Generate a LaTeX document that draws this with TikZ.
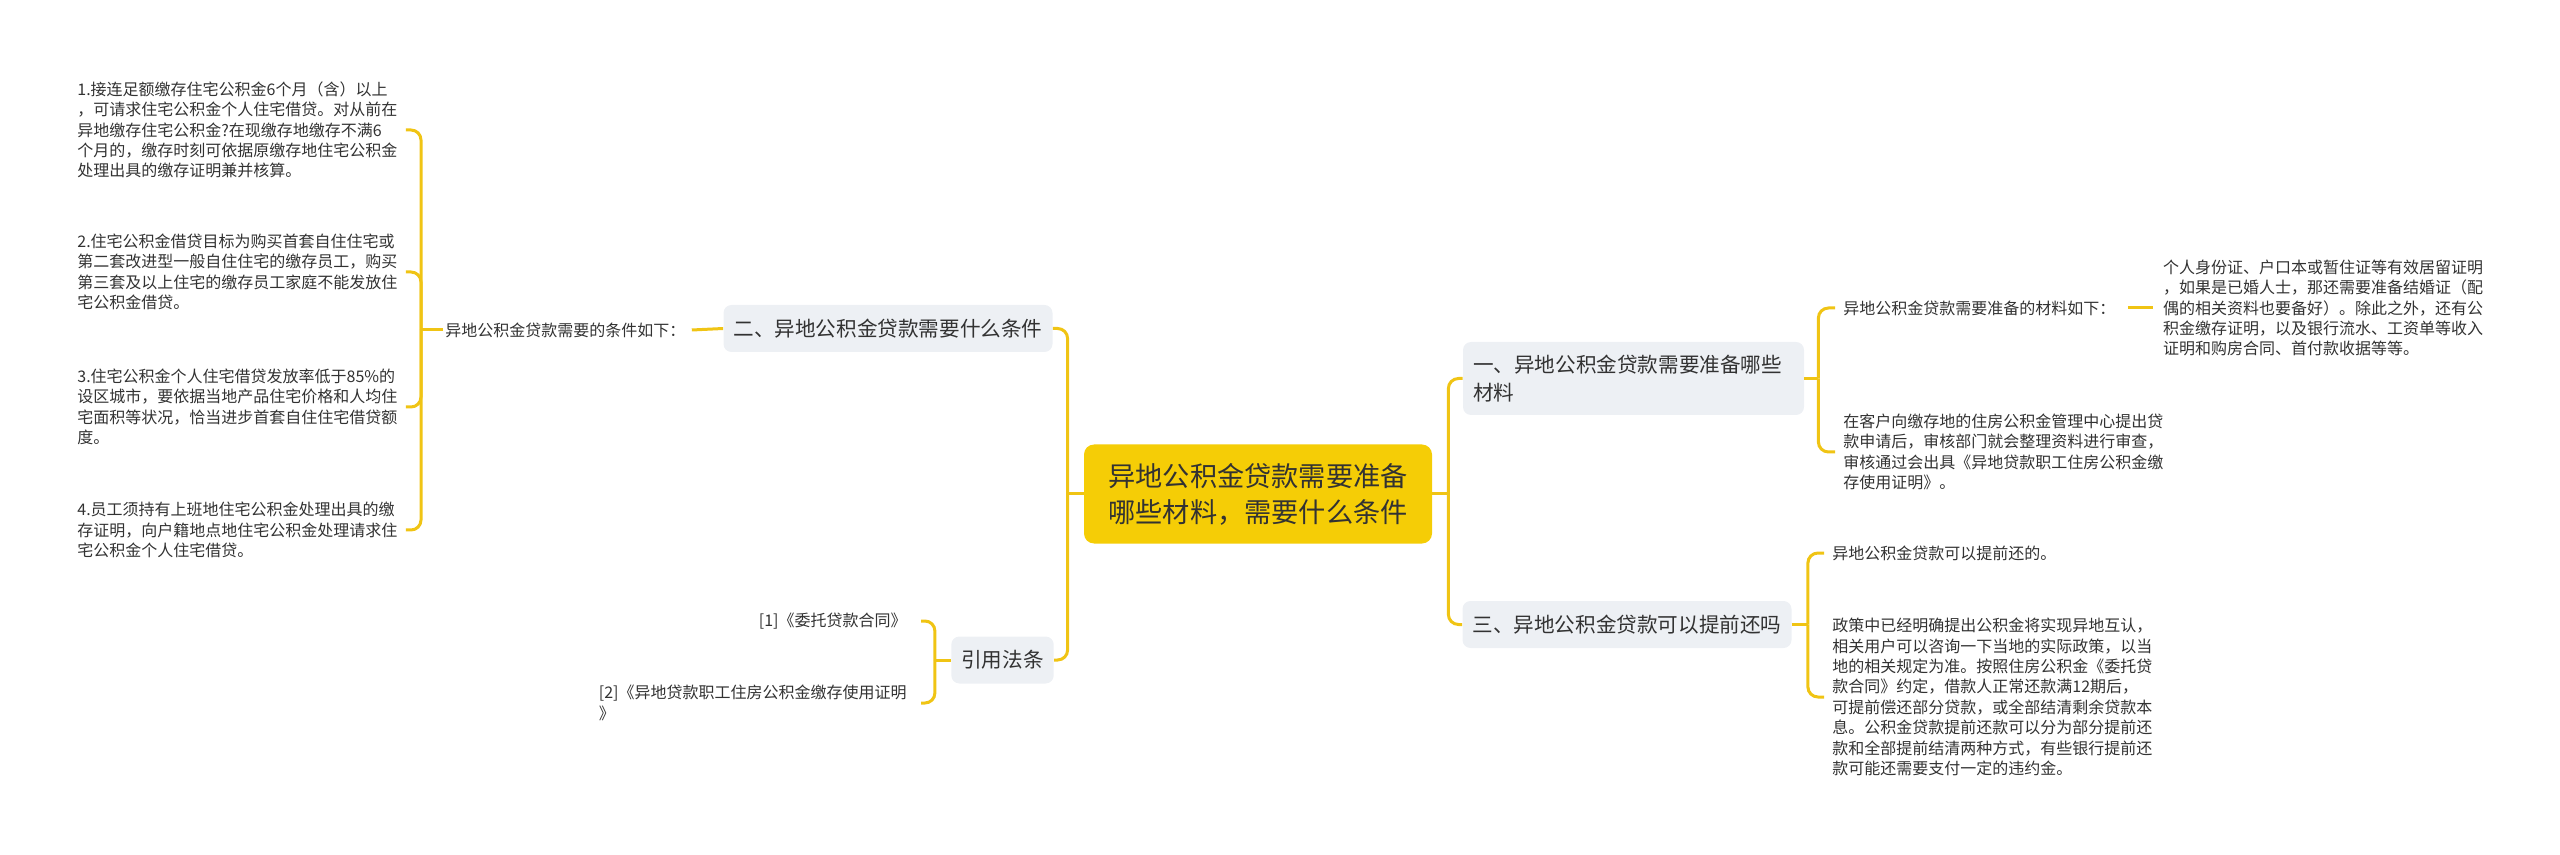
\documentclass[tikz,border=0pt]{standalone}
\usepackage{fontspec}
\setmainfont{Noto Sans CJK SC}
\usetikzlibrary{positioning}
\definecolor{mapYel}{RGB}{245,205,6}
\definecolor{lnYel}{RGB}{240,196,20}
\definecolor{boxG}{RGB}{237,240,244}
\definecolor{txtG}{RGB}{50,50,50}

\begin{document}
\begin{tikzpicture}[x=0.5pt,y=-0.5pt,text=txtG,font=\fontsize{8pt}{10.2pt}\selectfont]
  \tikzset{topic/.style={fill=boxG,rounded corners=4pt,inner xsep=5pt,minimum height=23.5pt,align=left,font=\fontsize{10.3pt}{14pt}\selectfont},
    leaf/.style={inner sep=1pt,align=left},
    link/.style={draw=lnYel,line width=1.5pt,rounded corners=5pt}}
  \useasboundingbox (0,0) rectangle (2560,855);
  \node[fill=mapYel,rounded corners=5pt,minimum width=174pt,minimum height=49.5pt,align=center,font=\fontsize{13.6pt}{18pt}\selectfont] (root) at (1258,494) {异地公积金贷款需要准备\\哪些材料，需要什么条件};
  % right branches
  \node[topic,text width=160.5pt,minimum height=36.5pt] (b1) at (1633.5,378.5) {一、异地公积金贷款需要准备哪些\\材料};
  \node[topic] (b3) at (1627,624.5) {三、异地公积金贷款可以提前还吗};
  \node[leaf,anchor=west] (r1) at (1841,308) {异地公积金贷款需要准备的材料如下：};
  \node[leaf,right=21.5pt of r1] (r1a) {个人身份证、户口本或暂住证等有效居留证明\\，如果是已婚人士，那还需要准备结婚证（配\\偶的相关资料也要备好）。除此之外，还有公\\积金缴存证明，以及银行流水、工资单等收入\\证明和购房合同、首付款收据等等。};
  \node[leaf,anchor=west] (r2) at (1841,452) {在客户向缴存地的住房公积金管理中心提出贷\\款申请后，审核部门就会整理资料进行审查，\\审核通过会出具《异地贷款职工住房公积金缴\\存使用证明》。};
  \node[leaf,anchor=west] (r3) at (1830,553) {异地公积金贷款可以提前还的。};
  \node[leaf,anchor=west] (r4) at (1830,697) {政策中已经明确提出公积金将实现异地互认，\\相关用户可以咨询一下当地的实际政策，以当\\地的相关规定为准。按照住房公积金《委托贷\\款合同》约定，借款人正常还款满12期后，\\可提前偿还部分贷款，或全部结清剩余贷款本\\息。公积金贷款提前还款可以分为部分提前还\\款和全部提前结清两种方式，有些银行提前还\\款可能还需要支付一定的违约金。};
  % left branches
  \node[topic] (b2) at (888,328.5) {二、异地公积金贷款需要什么条件};
  \node[topic] (cite) at (1002.5,660) {引用法条};
  \node[leaf,anchor=west] (cond) at (443,330) {异地公积金贷款需要的条件如下：};
  \node[leaf,anchor=west] (l1) at (75,130) {1.接连足额缴存住宅公积金6个月（含）以上\\，可请求住宅公积金个人住宅借贷。对从前在\\异地缴存住宅公积金?在现缴存地缴存不满6\\个月的，缴存时刻可依据原缴存地住宅公积金\\处理出具的缴存证明兼并核算。};
  \node[leaf,anchor=west] (l2) at (75,272) {2.住宅公积金借贷目标为购买首套自住住宅或\\第二套改进型一般自住住宅的缴存员工，购买\\第三套及以上住宅的缴存员工家庭不能发放住\\宅公积金借贷。};
  \node[leaf,anchor=west] (l3) at (75,407) {3.住宅公积金个人住宅借贷发放率低于85\%的\\设区城市，要依据当地产品住宅价格和人均住\\宅面积等状况，恰当进步首套自住住宅借贷额\\度。};
  \node[leaf,anchor=west] (l4) at (75,530) {4.员工须持有上班地住宅公积金处理出具的缴\\存证明，向户籍地点地住宅公积金处理请求住\\宅公积金个人住宅借贷。};
  \node[leaf,anchor=east] (c1) at (909,621) {[1]《委托贷款合同》};
  \node[leaf,anchor=east] (c2) at (909,703) {[2]《异地贷款职工住房公积金缴存使用证明\\》};
  % connectors
  \draw[link] (root.east) -- ++(16,0) coordinate (jr);
  \draw[link] (jr) |- (b1.west);
  \draw[link] (jr) |- (b3.west);
  \draw[link] (b1.east) -- ++(14,0) coordinate (j1);
  \draw[link] (j1) |- ([xshift=-3pt]r1.west);
  \draw[link] (j1) |- ([xshift=-3pt]r2.west);
  \draw[link] ([xshift=5pt]r1.east) -- ([xshift=-4pt]r1a.west);
  \draw[link] (b3.east) -- ++(16,0) coordinate (j3);
  \draw[link] (j3) |- ([xshift=-3pt]r3.west);
  \draw[link] (j3) |- ([xshift=-3pt]r4.west);
  \draw[link] (root.west) -- ++(-16,0) coordinate (jl);
  \draw[link] (jl) |- (b2.east);
  \draw[link] (jl) |- (cite.east);
  \draw[link] (b2.west) -- ([xshift=2pt]cond.east);
  \draw[link] (cond.west) -- ++(-22,0) coordinate (j2);
  \draw[link] (j2) |- ([xshift=3pt]l1.east);
  \draw[link] (j2) |- ([xshift=3pt]l2.east);
  \draw[link] (j2) |- ([xshift=3pt]l3.east);
  \draw[link] (j2) |- ([xshift=3pt]l4.east);
  \draw[link] (cite.west) -- ++(-16,0) coordinate (jc);
  \draw[link] (jc) |- ([xshift=6pt]c1.east);
  \draw[link] (jc) |- ([xshift=6pt]c2.east);
\end{tikzpicture}
\end{document}
